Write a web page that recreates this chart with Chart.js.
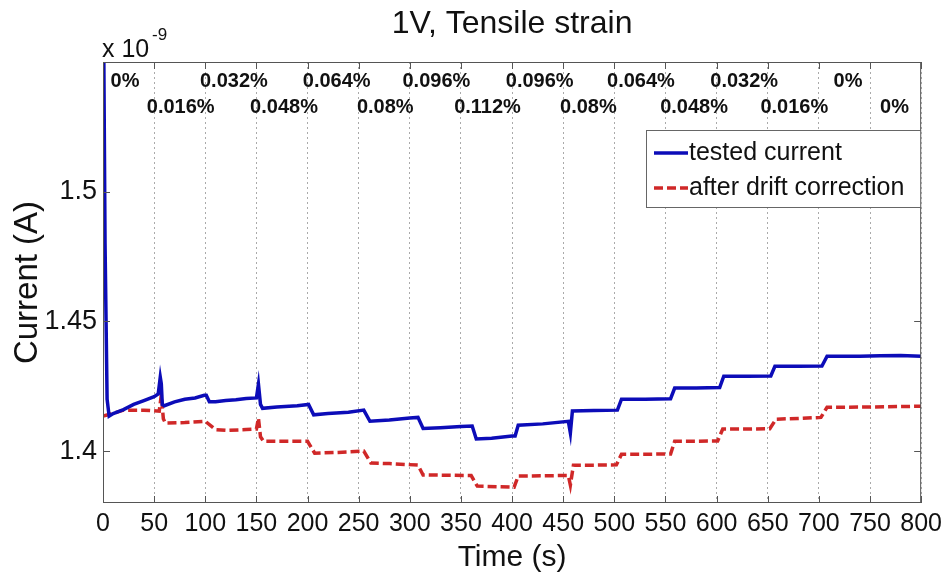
<!DOCTYPE html>
<html>
<head>
<meta charset="utf-8">
<script src="https://cdn.jsdelivr.net/npm/chart.js@4.4.0/dist/chart.umd.min.js"></script>
<style>
    body { margin: 0; background: #fff; }
</style>
</head>
<body>
<canvas id="current-chart" width="948" height="578"></canvas>
<script>
// time (s) and current (x 1e-9 A)
const testedTime = [0, 2, 4, 6, 10, 20, 30, 40, 50, 54, 56, 57, 58, 60, 70, 80, 90, 99, 101, 104, 110, 120, 130, 140, 150, 152, 154, 156, 170, 190, 201, 206, 220, 240, 255, 261, 280, 300, 308, 313, 330, 350, 361, 365, 380, 400, 403, 406, 430, 455, 457, 459, 480, 503, 507, 530, 555, 559, 580, 603, 607, 630, 653, 657, 680, 703, 708, 740, 760, 780, 800];
const testedCurrent = [1.60, 1.48, 1.42, 1.4135, 1.4145, 1.416, 1.418, 1.4195, 1.421, 1.422, 1.4285, 1.426, 1.418, 1.4175, 1.419, 1.42, 1.4205, 1.4215, 1.4215, 1.419, 1.419, 1.4195, 1.4198, 1.4203, 1.4205, 1.4258, 1.418, 1.4165, 1.417, 1.4175, 1.418, 1.414, 1.4145, 1.415, 1.4158, 1.4115, 1.412, 1.4128, 1.413, 1.4087, 1.409, 1.4095, 1.4097, 1.4047, 1.405, 1.4058, 1.4058, 1.41, 1.4105, 1.4115, 1.407, 1.4155, 1.4157, 1.4158, 1.42, 1.42, 1.4202, 1.4243, 1.4243, 1.4245, 1.4289, 1.4289, 1.429, 1.4327, 1.4327, 1.4328, 1.4366, 1.4366, 1.4368, 1.4369, 1.4366];

const correctedTime = [0, 5, 20, 40, 55, 57, 59, 61, 80, 100, 110, 120, 140, 150, 152, 154, 157, 180, 200, 207, 230, 255, 262, 280, 308, 313, 340, 360, 366, 385, 402, 406, 430, 455, 457, 460, 480, 502, 507, 530, 555, 559, 580, 601, 606, 630, 652, 658, 680, 702, 708, 750, 800];
const correctedCurrent = [1.4135, 1.414, 1.4158, 1.4158, 1.4154, 1.4216, 1.4125, 1.4108, 1.411, 1.4115, 1.4083, 1.408, 1.4083, 1.4085, 1.4127, 1.4055, 1.4038, 1.4038, 1.4038, 1.3992, 1.3995, 1.40, 1.3954, 1.3952, 1.3946, 1.3908, 1.3907, 1.3906, 1.3865, 1.3863, 1.3861, 1.3904, 1.3905, 1.3906, 1.3869, 1.3946, 1.3946, 1.3947, 1.3988, 1.3988, 1.3989, 1.4038, 1.4038, 1.4039, 1.4085, 1.4085, 1.4086, 1.4123, 1.4126, 1.413, 1.4169, 1.417, 1.4173];

const xTicks = [0, 50, 100, 150, 200, 250, 300, 350, 400, 450, 500, 550, 600, 650, 700, 750, 800];
const yTicks = [1.4, 1.45, 1.5];

// strain step labels, placed at the middle of each step (alternating rows)
const strainLabels = ['0%', '0.016%', '0.032%', '0.048%', '0.064%', '0.08%', '0.096%', '0.112%', '0.096%', '0.08%', '0.064%', '0.048%', '0.032%', '0.016%', '0%', '0%'];
const strainTimes = [21.5, 76, 128, 177, 228.5, 276, 326, 376, 427, 474.6, 526, 578, 627, 676, 728.5, 774];

const FONT = "'Liberation Sans', Arial, sans-serif";

function toPoints(times, values) {
    return times.map((t, i) => ({ x: t, y: values[i] }));
}

const matlabLook = {
    id: 'matlabLook',
    afterDraw(chart) {
        const ctx = chart.ctx;
        const area = chart.chartArea;
        const xs = chart.scales.x;
        const ys = chart.scales.y;
        ctx.save();

        // box and inward ticks
        ctx.strokeStyle = '#555';
        ctx.lineWidth = 1;
        ctx.setLineDash([]);
        ctx.strokeRect(area.left + 0.5, area.top + 0.5, area.right - area.left - 1, area.bottom - area.top - 1);
        ctx.beginPath();
        xTicks.forEach(v => {
            const px = Math.round(xs.getPixelForValue(v)) + 0.5;
            ctx.moveTo(px, area.bottom); ctx.lineTo(px, area.bottom - 7);
            ctx.moveTo(px, area.top); ctx.lineTo(px, area.top + 7);
        });
        yTicks.forEach(v => {
            const py = Math.round(ys.getPixelForValue(v)) + 0.5;
            ctx.moveTo(area.left, py); ctx.lineTo(area.left + 7, py);
            ctx.moveTo(area.right, py); ctx.lineTo(area.right - 7, py);
        });
        ctx.stroke();

        // strain labels
        ctx.fillStyle = '#111';
        ctx.font = 'bold 20px ' + FONT;
        ctx.textAlign = 'center';
        ctx.textBaseline = 'middle';
        strainLabels.forEach((lab, i) => {
            const px = xs.getPixelForValue(strainTimes[i]);
            const py = area.top + (i % 2 === 0 ? 19 : 45);
            ctx.fillText(lab, px, py);
        });

        // title and exponent
        ctx.font = '32px ' + FONT;
        ctx.fillText('1V, Tensile strain', (area.left + area.right) / 2, 24);
        ctx.textAlign = 'left';
        ctx.textBaseline = 'alphabetic';
        ctx.font = '25px ' + FONT;
        ctx.fillText('x 10', area.left - 1, 57);
        ctx.font = '17px ' + FONT;
        ctx.fillText('-9', area.left + 49, 40);

        // legend box
        const lx = 646, ly = 130, lw = area.right - 646, lh = 78;
        ctx.fillStyle = '#fff';
        ctx.fillRect(lx, ly, lw, lh);
        ctx.strokeStyle = '#666';
        ctx.strokeRect(lx + 0.5, ly + 0.5, lw - 1, lh - 1);
        ctx.font = '25px ' + FONT;
        ctx.textBaseline = 'middle';
        chart.data.datasets.forEach((ds, i) => {
            const yy = ly + 23 + i * 35;
            ctx.strokeStyle = ds.borderColor;
            ctx.lineWidth = 3.5;
            ctx.setLineDash(ds.borderDash || []);
            ctx.beginPath();
            ctx.moveTo(lx + 8, yy);
            ctx.lineTo(lx + 42, yy);
            ctx.stroke();
            ctx.fillStyle = '#111';
            ctx.fillText(ds.label, lx + 43, yy);
        });
        ctx.restore();
    }
};

const config = {
    type: 'line',
    data: {
        datasets: [{
            label: 'tested current',
            data: toPoints(testedTime, testedCurrent),
            borderColor: '#0c0cb8',
            borderWidth: 3.5,
            pointRadius: 0,
            tension: 0
        }, {
            label: 'after drift correction',
            data: toPoints(correctedTime, correctedCurrent),
            borderColor: '#d02828',
            borderWidth: 3.5,
            borderDash: [9, 4],
            pointRadius: 0,
            tension: 0
        }]
    },
    options: {
        responsive: false,
        animation: false,
        layout: {
            padding: { top: 62, right: 26, bottom: 0, left: 0 }
        },
        plugins: {
            legend: { display: false },
            tooltip: { enabled: false }
        },
        scales: {
            x: {
                type: 'linear',
                min: 0,
                max: 800,
                afterBuildTicks: s => { s.ticks = xTicks.map(v => ({ value: v })); },
                afterFit: s => { s.height = 75; },
                ticks: {
                    color: '#111',
                    font: { family: FONT, size: 25 },
                    padding: 6,
                    maxRotation: 0,
                    autoSkip: false
                },
                grid: {
                    display: true,
                    drawTicks: false,
                    color: '#aaa',
                    lineWidth: 1
                },
                border: { display: false, dash: [2, 3] },
                title: {
                    display: true,
                    text: 'Time (s)',
                    color: '#111',
                    font: { family: FONT, size: 30 },
                    padding: { top: 0, bottom: 2 }
                }
            },
            y: {
                min: 1.38,
                max: 1.55,
                afterBuildTicks: s => { s.ticks = yTicks.map(v => ({ value: v })); },
                afterFit: s => { s.width = 103; },
                ticks: {
                    color: '#111',
                    font: { family: FONT, size: 27 },
                    padding: 6,
                    callback: v => String(+v.toFixed(2))
                },
                grid: { display: false, drawTicks: false },
                border: { display: false },
                title: {
                    display: true,
                    text: 'Current (A)',
                    color: '#111',
                    font: { family: FONT, size: 33 },
                    padding: { top: 8, bottom: 0 }
                }
            }
        }
    },
    plugins: [matlabLook]
};

let chart = new Chart(document.getElementById('current-chart'), config);
</script>
</body>
</html>
